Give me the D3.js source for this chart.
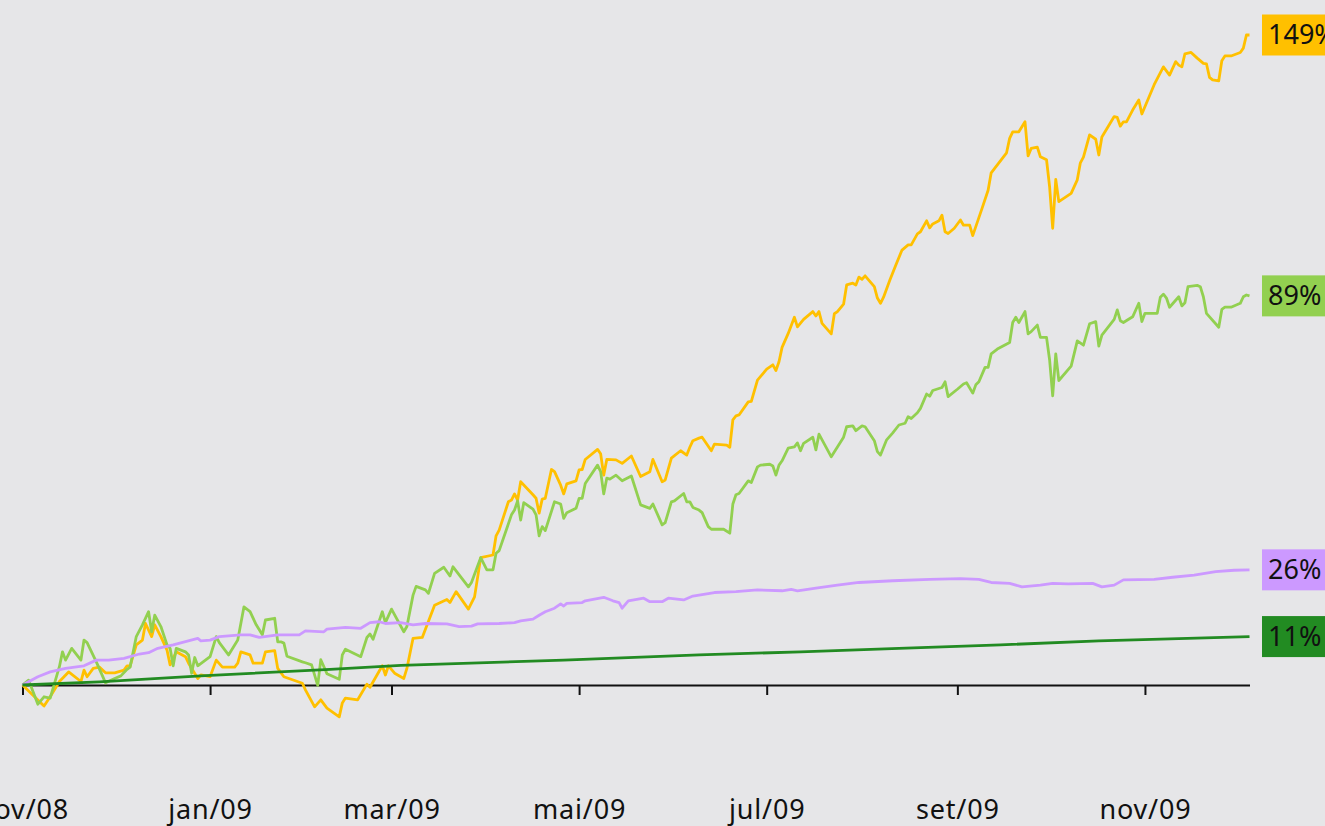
<!DOCTYPE html>
<html>
<head>
<meta charset="utf-8">
<script src="https://cdn.jsdelivr.net/npm/d3@7"></script>
<style>
  html, body { margin: 0; padding: 0; background: #e6e6e8; overflow: hidden; }
  svg { display: block; font-family: "Noto Sans", sans-serif; }
</style>
</head>
<body>
<svg id="chart"></svg>
<script>
const W = 1325
const H = 826

// days since 01/nov/2008, accumulated return in %
const start = new Date(2008, 10, 1)

const yellowSeries = [[0,0],[7,-4.8],[9,-2.7],[12,0.8],[15,3.0],[19,0.8],[20,3.4],[21,1.9],[23,3.8],[25,4.1],[27,2.8],[30,2.8],[33,3.4],[34,4.4],[35,4.4],[37,9.2],[39,10.3],[40,14.1],[42,11.1],[43,13.8],[45,11.1],[47,8.0],[48,4.6],[50,7.6],[53,6.5],[54,5.0],[57,1.5],[58,2.3],[61,1.9],[63,5.7],[65,4.1],[69,4.1],[70,5.0],[71,7.6],[74,6.9],[75,5.0],[78,5.0],[79,7.6],[82,7.9],[83,3.8],[85,1.9],[91,0.4],[92,-1.1],[95,-5.0],[97,-3.4],[99,-5.3],[103,-7.3],[104,-4.1],[105,-3.0],[109,-3.4],[112,0.2],[113,-0.5],[117,4.4],[118,2.3],[119,4.4],[121,2.7],[124,1.5],[125,3.8],[127,10.7],[130,10.9],[134,18.3],[138,19.6],[139,18.9],[141,21.4],[145,17.4],[147,20.2],[149,29.2],[153,29.8],[154,34.2],[155,35.5],[158,42.0],[159,42.4],[160,43.8],[161,42.4],[162,46.6],[166,43.6],[167,42.8],[168,39.4],[169,42.6],[170,42.8],[172,49.4],[173,48.9],[175,45.8],[176,43.8],[177,46.1],[180,46.8],[181,49.3],[182,49.4],[183,51.7],[187,54.0],[188,53.0],[189,48.1],[190,51.7],[193,51.6],[195,50.8],[198,52.5],[201,47.8],[204,48.9],[205,51.7],[208,46.6],[209,47.0],[211,52.0],[214,53.7],[216,52.7],[217,54.5],[218,56.0],[220,56.6],[221,56.8],[224,53.7],[225,55.2],[229,55.0],[230,54.5],[231,60.8],[232,61.7],[233,61.9],[236,64.9],[237,65.0],[239,69.9],[242,72.4],[244,73.4],[245,72.1],[246,74.1],[247,77.4],[249,80.6],[251,84.3],[252,82.1],[254,83.8],[257,85.6],[258,84.6],[259,85.6],[260,82.9],[263,80.5],[264,85.1],[265,85.6],[267,87.3],[268,91.7],[270,92.1],[271,91.7],[272,93.5],[273,93.0],[274,93.8],[277,91.3],[278,88.7],[279,87.5],[280,88.9],[282,92.7],[284,96.3],[286,99.7],[288,100.9],[289,100.9],[291,103.4],[292,103.9],[294,106.4],[295,104.8],[296,105.7],[298,106.4],[299,107.7],[300,103.9],[301,103.5],[303,104.7],[305,106.6],[306,105.4],[308,105.4],[309,103.0],[312,109.2],[314,113.4],[315,117.4],[320,122.0],[321,125.3],[322,126.8],[324,126.8],[326,129.1],[327,121.3],[328,123.0],[330,123.3],[331,121.1],[333,120.4],[334,114.2],[335,104.7],[336,115.9],[337,110.8],[341,112.7],[343,115.8],[344,119.7],[345,121.0],[347,126.1],[349,125.1],[350,121.5],[351,125.6],[355,130.3],[356,130.1],[357,128.1],[358,129.1],[359,129.1],[361,131.8],[363,134.1],[364,130.9],[368,137.6],[371,141.7],[373,139.8],[375,142.9],[376,142.1],[377,141.7],[378,144.7],[380,145.0],[382,143.7],[384,142.5],[385,142.4],[386,139.3],[387,138.7],[389,138.5],[390,143.1],[391,144.2],[393,144.2],[396,145.0],[397,146.0],[398,149.0],[399,149.0]]

const lightGreenSeries = [[0,0],[2,1.1],[5,-4.4],[7,-2.7],[9,-3.0],[12,4.2],[13,7.6],[14,5.7],[16,8.4],[19,5.7],[20,10.3],[21,9.7],[24,5.3],[27,0.5],[30,1.5],[32,2.1],[34,3.6],[35,4.1],[37,11.1],[39,13.8],[41,16.8],[42,12.2],[43,16.0],[45,13.4],[47,9.2],[48,8.4],[49,4.4],[50,8.4],[53,7.6],[54,6.9],[55,2.7],[56,6.3],[57,4.4],[61,6.5],[63,11.1],[64,9.7],[67,6.9],[70,10.3],[72,17.9],[74,16.8],[76,13.8],[78,11.5],[79,14.9],[82,15.3],[83,9.9],[84,9.9],[85,9.6],[86,6.6],[91,5.3],[92,5.1],[94,4.6],[96,-0.1],[97,5.8],[99,2.6],[103,1.3],[104,6.9],[105,8.2],[110,6.5],[112,10.9],[113,11.7],[114,10.5],[117,16.8],[118,14.3],[120,17.4],[124,12.2],[125,13.4],[127,20.6],[128,22.6],[131,21.8],[132,21.0],[134,25.6],[137,27.0],[139,25.0],[140,27.1],[145,22.5],[146,23.5],[149,29.2],[151,26.4],[153,26.4],[154,30.2],[155,30.8],[159,39.0],[160,40.1],[161,42.2],[162,37.8],[163,41.8],[166,40.3],[167,39.0],[168,34.2],[169,36.3],[170,35.4],[173,42.0],[175,41.5],[176,38.2],[177,39.5],[180,40.5],[181,42.8],[182,42.8],[183,46.2],[187,50.4],[188,48.9],[189,43.8],[190,47.4],[191,47.2],[193,48.1],[195,46.8],[198,47.9],[201,41.3],[204,40.5],[205,41.5],[208,36.7],[209,37.2],[211,42.0],[212,42.2],[215,43.9],[216,42.0],[217,42.0],[218,40.7],[220,40.1],[221,39.5],[223,36.3],[224,35.7],[228,35.7],[230,34.8],[231,41.5],[232,43.6],[233,43.9],[236,46.8],[237,46.4],[239,50.0],[240,50.4],[243,50.6],[244,50.2],[245,48.1],[246,50.4],[247,51.4],[249,54.3],[251,54.6],[252,55.5],[253,53.7],[254,55.4],[257,56.8],[258,53.9],[259,57.5],[263,52.3],[267,56.8],[268,59.2],[270,59.4],[271,58.3],[273,59.4],[274,59.2],[277,56.0],[278,53.5],[279,52.7],[281,56.2],[283,57.8],[285,59.6],[287,60.0],[288,61.5],[289,61.1],[291,62.4],[292,63.4],[294,66.7],[295,66.2],[296,67.5],[299,68.2],[300,69.5],[301,66.1],[304,67.8],[306,69.0],[307,69.3],[309,66.9],[310,68.8],[311,69.5],[313,72.8],[314,72.8],[315,75.9],[317,77.0],[321,78.5],[322,83.1],[323,84.3],[324,83.1],[326,85.6],[327,80.5],[328,81.0],[330,82.5],[331,79.7],[333,79.7],[334,74.5],[335,66.3],[336,75.9],[337,69.8],[341,73.1],[343,78.9],[345,77.9],[347,82.8],[349,83.3],[350,77.7],[351,80.2],[355,83.8],[356,86.0],[357,83.5],[358,83.1],[361,84.4],[363,87.5],[364,83.3],[365,85.2],[369,85.2],[370,88.9],[371,89.6],[372,88.7],[373,86.6],[376,89.0],[377,86.9],[378,87.6],[379,91.3],[382,91.6],[383,91.3],[384,89.0],[385,85.2],[389,82.0],[390,86.1],[391,86.6],[393,86.6],[396,87.5],[397,89.0],[398,89.4],[399,89.2]]

const lilacSeries = [[0,0],[5,1.9],[9,3.0],[14,3.8],[20,4.4],[24,5.7],[28,5.7],[33,6.1],[38,7.1],[41,7.4],[44,8.4],[49,9.2],[57,10.7],[58,10.1],[61,10.3],[64,11.1],[71,11.5],[74,11.5],[77,10.9],[83,11.5],[90,11.5],[92,12.4],[98,12.2],[99,12.8],[105,13.2],[110,13.0],[113,14.3],[116,14.5],[118,14.1],[123,14.3],[127,13.8],[131,14.1],[138,14.0],[142,13.4],[146,13.5],[148,14.0],[155,14.1],[160,14.3],[162,14.7],[166,15.1],[168,16.0],[170,16.8],[173,17.6],[175,18.6],[176,18.1],[177,18.7],[182,18.9],[183,19.3],[189,20.1],[192,19.3],[194,18.9],[195,17.6],[197,19.3],[202,19.9],[204,19.1],[208,19.1],[210,19.9],[215,19.5],[218,20.4],[225,21.2],[232,21.4],[239,21.8],[247,21.6],[250,21.9],[252,21.6],[258,22.2],[265,22.9],[272,23.5],[283,23.9],[295,24.2],[305,24.4],[311,24.2],[315,23.5],[321,23.3],[325,22.5],[331,22.9],[335,23.3],[340,23.2],[348,23.3],[351,22.5],[355,22.9],[358,24.1],[368,24.2],[374,24.7],[381,25.2],[388,26.0],[394,26.3],[399,26.4]]

const darkGreenSeries = [[0,0],[25,0.7],[58,2.1],[100,3.6],[123,4.5],[176,5.7],[220,6.9],[253,7.6],[285,8.4],[318,9.2],[350,10.1],[399,11.1]]

const seriesColors = ['#ffc000', '#92d050', '#cc99ff', '#228b22']
const endLabels = ['149%', '89%', '26%', '11%']
const tickDates = ['2008-11-01', '2009-01-01', '2009-03-01', '2009-05-01', '2009-07-01', '2009-09-01', '2009-11-01']
const monthNames = ['jan', 'fev', 'mar', 'abr', 'mai', 'jun', 'jul', 'ago', 'set', 'out', 'nov', 'dez']

const allSeries = [yellowSeries, lightGreenSeries, lilacSeries, darkGreenSeries]
const toDate = d => d3.timeDay.offset(start, d)

const svg = d3.select('#chart').attr('width', W).attr('height', H)

svg.append('rect').attr('width', W).attr('height', H).attr('fill', '#e6e6e8')

const x = d3.scaleTime()
  .domain([start, toDate(399)])
  .range([22.5, 1249.5])

const y = d3.scaleLinear()
  .domain([0, 149])
  .range([685, 35])

// x axis
const xAxis = d3.axisBottom(x)
  .tickValues(tickDates.map(d => d3.timeParse('%Y-%m-%d')(d)))
  .tickFormat(d => monthNames[d.getMonth()] + '/' + d3.timeFormat('%y')(d))
  .tickSize(10)
  .tickSizeOuter(0)

const gx = svg.append('g')
  .attr('transform', 'translate(0,' + y(0) + ')')
  .call(xAxis)

gx.select('.domain').attr('stroke', '#111').attr('stroke-width', 2)
gx.selectAll('.tick line').attr('stroke', '#111').attr('stroke-width', 2)
gx.selectAll('.tick text')
  .attr('y', 134)
  .attr('dy', 0)
  .attr('fill', '#111')
  .style('font-size', '27px')
  .style('letter-spacing', '0.8px')
  .style('font-family', '"Noto Sans", sans-serif')

// lines
const line = d3.line()
  .x(d => x(toDate(d[0])))
  .y(d => y(d[1]))

svg.append('g')
  .selectAll('path')
  .data(allSeries)
  .join('path')
  .attr('d', line)
  .attr('fill', 'none')
  .attr('stroke', (d, i) => seriesColors[i])
  .attr('stroke-width', 2.8)
  .attr('stroke-linejoin', 'round')

// end labels
const labels = svg.append('g')
  .selectAll('g')
  .data(allSeries)
  .join('g')
  .attr('transform', d => 'translate(1262,' + y(d[d.length - 1][1]) + ')')

labels.append('rect')
  .attr('y', -20.5)
  .attr('height', 41)
  .attr('fill', (d, i) => seriesColors[i])

labels.append('text')
  .attr('x', 6)
  .attr('dy', '0.35em')
  .attr('fill', '#111')
  .style('font-size', '27px')
  .text((d, i) => endLabels[i])

labels.each(function () {
  const g = d3.select(this)
  const tw = g.select('text').node().getComputedTextLength()
  g.select('rect').attr('width', tw + 14)
})
</script>
</body>
</html>
